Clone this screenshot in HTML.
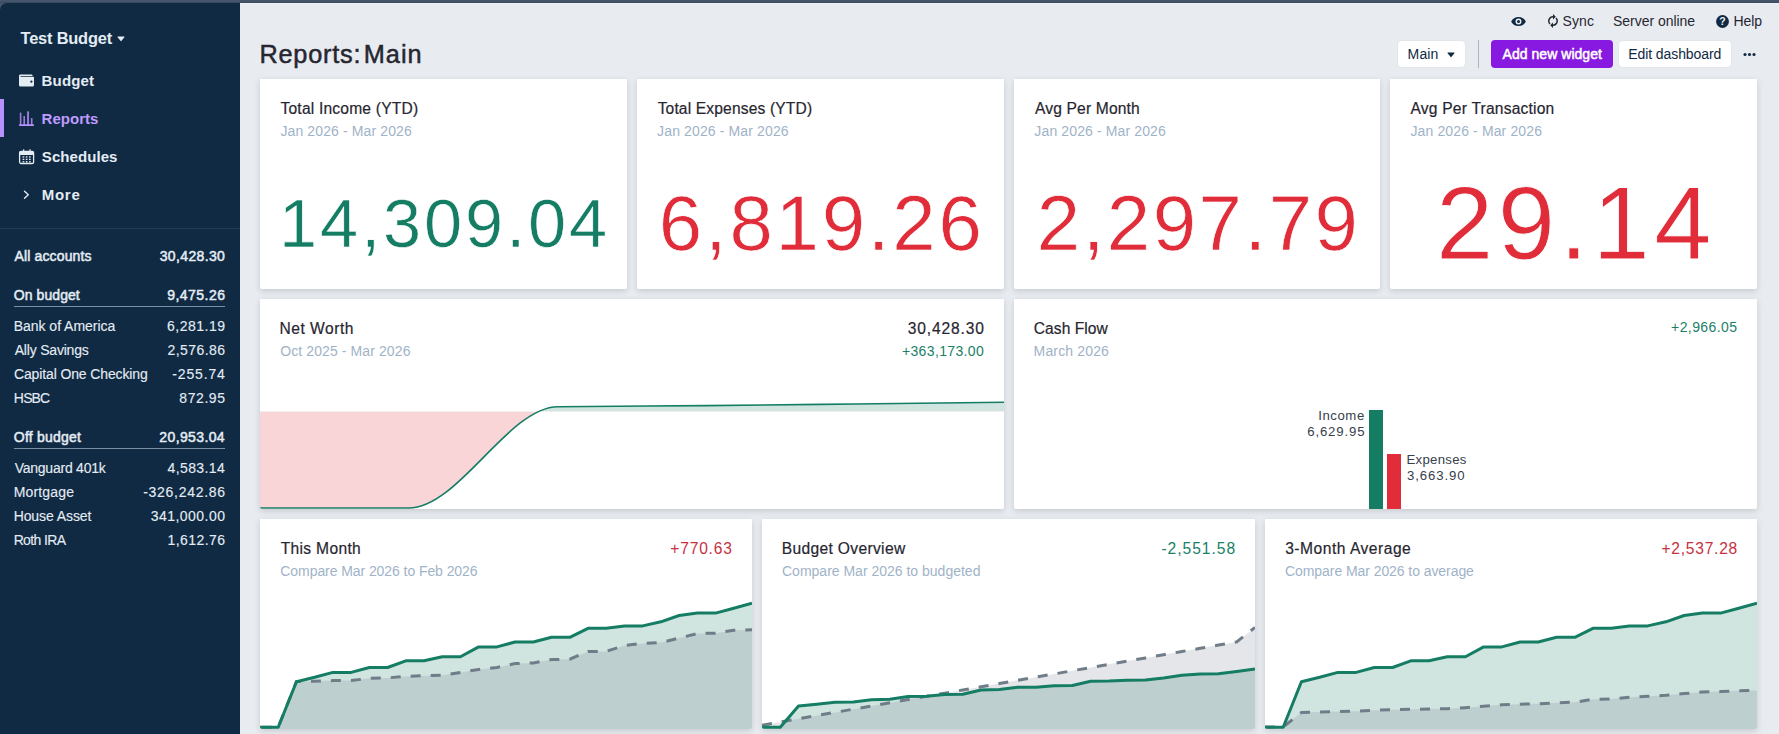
<!DOCTYPE html>
<html lang="en"><head><meta charset="utf-8"><title>Reports: Main</title>
<style>
html,body{margin:0;padding:0;}
body{width:1779px;height:734px;overflow:hidden;position:relative;background:#e8ecf0;font-family:"Liberation Sans", sans-serif;}
.t{position:absolute;white-space:nowrap;line-height:1;font-weight:400;}
.abs{position:absolute;}
.card{position:absolute;background:#fff;box-shadow:0 2px 6px rgba(0,0,0,.15);border-radius:0 0 2px 2px;overflow:hidden;}
</style></head>
<body>
<div class="abs" style="left:0;top:0;width:1779px;height:12px;background:#45566c;"></div>
<div class="abs" style="left:0;top:2px;width:1779px;height:1px;background:#3a4a5d;"></div>
<div class="abs" style="left:240px;top:3px;width:1539px;height:12px;background:#e8ecf0;"></div>
<div class="abs" style="left:240px;top:3px;width:1539px;height:1px;background:#eff3f8;"></div>
<div class="abs" style="left:0;top:3px;width:240px;height:731px;background:#102a43;border-top-left-radius:7px;"></div>
<div class="abs" style="left:0;top:99px;width:4px;height:38px;background:#b990ff;"></div>
<div class="abs" style="left:0;top:228px;width:240px;height:1px;background:#243b53;"></div>
<div class="abs" style="left:14px;top:306px;width:211px;height:1px;background:#7b8fa5;"></div>
<div class="abs" style="left:14px;top:448px;width:211px;height:1px;background:#7b8fa5;"></div>
<div class="abs" style="left:1398px;top:41px;width:67px;height:26px;background:#fff;border-radius:4px;box-shadow:0 0 0 1px #e1e6eb;"></div>
<div class="abs" style="left:1478px;top:40px;width:1px;height:28px;background:#a7b5c4;"></div>
<div class="abs" style="left:1491px;top:40px;width:122px;height:28px;background:#8719e0;border-radius:4px;"></div>
<div class="abs" style="left:1619px;top:41px;width:112px;height:26px;background:#fff;border-radius:4px;box-shadow:0 0 0 1px #e1e6eb;"></div>
<div class="card" id="k1" style="left:260px;top:79px;width:367px;height:210px;"></div>
<div class="card" id="k2" style="left:637px;top:79px;width:367px;height:210px;"></div>
<div class="card" id="k3" style="left:1014px;top:79px;width:366px;height:210px;"></div>
<div class="card" id="k4" style="left:1390px;top:79px;width:367px;height:210px;"></div>
<div class="card" id="k5" style="left:260px;top:299px;width:744px;height:210px;"><svg class="abs" style="left:0;top:0" width="744" height="210" viewBox="0 0 744 210"><defs><clipPath id="cpa"><rect x="0" y="0" width="744" height="112.50"/></clipPath><clipPath id="cpb"><rect x="0" y="112.50" width="744" height="97.50"/></clipPath></defs><path d="M0.00,209.00 C49.60,209.00 99.20,209.00 148.80,209.00 C198.40,209.00 248.00,108.43 297.60,107.70 C347.20,106.97 396.80,107.05 446.40,106.60 C496.00,106.15 545.60,105.55 595.20,105.00 C644.80,104.45 694.40,103.88 744.00,103.30 L744.00,112.50 L0,112.50 Z" fill="#147d64" fill-opacity="0.2" clip-path="url(#cpa)"/><path d="M0.00,209.00 C49.60,209.00 99.20,209.00 148.80,209.00 C198.40,209.00 248.00,108.43 297.60,107.70 C347.20,106.97 396.80,107.05 446.40,106.60 C496.00,106.15 545.60,105.55 595.20,105.00 C644.80,104.45 694.40,103.88 744.00,103.30 L744.00,112.50 L0,112.50 Z" fill="#e12d39" fill-opacity="0.2" clip-path="url(#cpb)"/><path d="M0.00,209.00 C49.60,209.00 99.20,209.00 148.80,209.00 C198.40,209.00 248.00,108.43 297.60,107.70 C347.20,106.97 396.80,107.05 446.40,106.60 C496.00,106.15 545.60,105.55 595.20,105.00 C644.80,104.45 694.40,103.88 744.00,103.30" fill="none" stroke="#147d64" stroke-width="1.6"/></svg></div>
<div class="card" id="k6" style="left:1014px;top:299px;width:743px;height:210px;"><div class="abs" style="left:355.3px;top:110.5px;width:13.9px;height:100px;background:#147d64;"></div><div class="abs" style="left:373.1px;top:155.2px;width:13.8px;height:60px;background:#e12d39;"></div></div>
<div class="card" id="k7" style="left:260px;top:519px;width:492px;height:210px;"><svg class="abs" style="left:0;top:0" width="492" height="210" viewBox="0 0 492 210"><path d="M0.00,208.20 L18.22,208.20 L36.44,162.70 L54.67,158.30 L72.89,153.40 L91.11,153.40 L109.33,148.50 L127.56,148.50 L145.78,141.80 L164.00,141.80 L182.22,137.70 L200.44,137.70 L218.67,127.90 L236.89,127.90 L255.11,123.00 L273.33,123.00 L291.56,118.30 L309.78,118.30 L328.00,109.30 L346.22,109.30 L364.44,106.90 L382.67,106.90 L400.89,102.80 L419.11,96.50 L437.33,94.10 L455.56,94.10 L473.78,89.20 L492.00,84.30 L492.00,212 L0,212 Z" fill="#147d64" fill-opacity="0.2"/><path d="M0.00,208.20 L18.22,208.20 L36.44,162.60 L54.67,162.20 L72.89,161.60 L91.11,161.60 L109.33,159.30 L127.56,158.90 L145.78,157.30 L164.00,156.70 L182.22,156.30 L200.44,153.40 L218.67,150.40 L236.89,148.50 L255.11,144.60 L273.33,144.00 L291.56,140.60 L309.78,140.20 L328.00,132.40 L346.22,132.40 L364.44,126.50 L382.67,124.40 L400.89,123.60 L419.11,119.10 L437.33,114.50 L455.56,114.20 L473.78,111.20 L492.00,110.80 L492.00,212 L0,212 Z" fill="#6b7785" fill-opacity="0.18"/><path d="M0.00,208.20 L18.22,208.20 L36.44,162.60 L54.67,162.20 L72.89,161.60 L91.11,161.60 L109.33,159.30 L127.56,158.90 L145.78,157.30 L164.00,156.70 L182.22,156.30 L200.44,153.40 L218.67,150.40 L236.89,148.50 L255.11,144.60 L273.33,144.00 L291.56,140.60 L309.78,140.20 L328.00,132.40 L346.22,132.40 L364.44,126.50 L382.67,124.40 L400.89,123.60 L419.11,119.10 L437.33,114.50 L455.56,114.20 L473.78,111.20 L492.00,110.80" fill="none" stroke="#707d89" stroke-width="3" stroke-dasharray="10 10" stroke-dashoffset="-1.8"/><path d="M0.00,208.20 L18.22,208.20 L36.44,162.70 L54.67,158.30 L72.89,153.40 L91.11,153.40 L109.33,148.50 L127.56,148.50 L145.78,141.80 L164.00,141.80 L182.22,137.70 L200.44,137.70 L218.67,127.90 L236.89,127.90 L255.11,123.00 L273.33,123.00 L291.56,118.30 L309.78,118.30 L328.00,109.30 L346.22,109.30 L364.44,106.90 L382.67,106.90 L400.89,102.80 L419.11,96.50 L437.33,94.10 L455.56,94.10 L473.78,89.20 L492.00,84.30" fill="none" stroke="#147d64" stroke-width="3" stroke-linejoin="round"/></svg></div>
<div class="card" id="k8" style="left:762px;top:519px;width:493px;height:210px;"><svg class="abs" style="left:0;top:0" width="493" height="210" viewBox="0 0 493 210"><path d="M0.00,208.30 L18.26,208.30 L36.52,187.10 L54.78,185.20 L73.04,183.20 L91.30,183.00 L109.56,180.80 L127.81,180.30 L146.07,177.50 L164.33,177.30 L182.59,175.50 L200.85,175.20 L219.11,171.00 L237.37,170.60 L255.63,168.30 L273.89,168.30 L292.15,166.70 L310.41,166.50 L328.67,162.20 L346.93,162.00 L365.19,161.20 L383.44,161.00 L401.70,159.10 L419.96,156.30 L438.22,155.00 L456.48,154.80 L474.74,152.40 L493.00,150.00 L493.00,212 L0,212 Z" fill="#147d64" fill-opacity="0.2"/><path d="M0.00,206.20 L18.26,203.00 L36.52,199.79 L54.78,196.59 L73.04,193.38 L91.30,190.18 L109.56,186.98 L127.81,183.77 L146.07,180.57 L164.33,177.36 L182.59,174.16 L200.85,170.96 L219.11,167.75 L237.37,164.55 L255.63,161.34 L273.89,158.14 L292.15,154.94 L310.41,151.73 L328.67,148.53 L346.93,145.32 L365.19,142.12 L383.44,138.92 L401.70,135.71 L419.96,132.51 L438.22,129.30 L456.48,126.10 L474.74,122.90 L493.00,108.40 L493.00,212 L0,212 Z" fill="#6b7785" fill-opacity="0.18"/><path d="M0.00,206.20 L18.26,203.00 L36.52,199.79 L54.78,196.59 L73.04,193.38 L91.30,190.18 L109.56,186.98 L127.81,183.77 L146.07,180.57 L164.33,177.36 L182.59,174.16 L200.85,170.96 L219.11,167.75 L237.37,164.55 L255.63,161.34 L273.89,158.14 L292.15,154.94 L310.41,151.73 L328.67,148.53 L346.93,145.32 L365.19,142.12 L383.44,138.92 L401.70,135.71 L419.96,132.51 L438.22,129.30 L456.48,126.10 L474.74,122.90 L493.00,108.40" fill="none" stroke="#707d89" stroke-width="3" stroke-dasharray="10 10" stroke-dashoffset="0"/><path d="M0.00,208.30 L18.26,208.30 L36.52,187.10 L54.78,185.20 L73.04,183.20 L91.30,183.00 L109.56,180.80 L127.81,180.30 L146.07,177.50 L164.33,177.30 L182.59,175.50 L200.85,175.20 L219.11,171.00 L237.37,170.60 L255.63,168.30 L273.89,168.30 L292.15,166.70 L310.41,166.50 L328.67,162.20 L346.93,162.00 L365.19,161.20 L383.44,161.00 L401.70,159.10 L419.96,156.30 L438.22,155.00 L456.48,154.80 L474.74,152.40 L493.00,150.00" fill="none" stroke="#147d64" stroke-width="3" stroke-linejoin="round"/></svg></div>
<div class="card" id="k9" style="left:1265px;top:519px;width:492px;height:210px;"><svg class="abs" style="left:0;top:0" width="492" height="210" viewBox="0 0 492 210"><path d="M0.00,208.20 L18.22,208.20 L36.44,162.70 L54.67,158.30 L72.89,153.40 L91.11,153.40 L109.33,148.50 L127.56,148.50 L145.78,141.80 L164.00,141.80 L182.22,137.70 L200.44,137.70 L218.67,127.90 L236.89,127.90 L255.11,123.00 L273.33,123.00 L291.56,118.30 L309.78,118.30 L328.00,109.30 L346.22,109.30 L364.44,106.90 L382.67,106.90 L400.89,102.80 L419.11,96.50 L437.33,94.10 L455.56,94.10 L473.78,89.20 L492.00,84.30 L492.00,212 L0,212 Z" fill="#147d64" fill-opacity="0.2"/><path d="M0.00,207.90 L18.22,207.90 L36.44,193.60 L54.67,193.00 L72.89,192.60 L91.11,192.20 L109.33,191.20 L127.56,190.70 L145.78,190.30 L164.00,190.10 L182.22,189.70 L200.44,188.70 L218.67,187.30 L236.89,185.80 L255.11,185.20 L273.33,184.80 L291.56,183.80 L309.78,183.20 L328.00,180.30 L346.22,179.90 L364.44,178.30 L382.67,177.30 L400.89,176.30 L419.11,174.60 L437.33,173.00 L455.56,172.60 L473.78,171.80 L492.00,171.40 L492.00,212 L0,212 Z" fill="#6b7785" fill-opacity="0.18"/><path d="M0.00,207.90 L18.22,207.90 L36.44,193.60 L54.67,193.00 L72.89,192.60 L91.11,192.20 L109.33,191.20 L127.56,190.70 L145.78,190.30 L164.00,190.10 L182.22,189.70 L200.44,188.70 L218.67,187.30 L236.89,185.80 L255.11,185.20 L273.33,184.80 L291.56,183.80 L309.78,183.20 L328.00,180.30 L346.22,179.90 L364.44,178.30 L382.67,177.30 L400.89,176.30 L419.11,174.60 L437.33,173.00 L455.56,172.60 L473.78,171.80 L492.00,171.40" fill="none" stroke="#707d89" stroke-width="3" stroke-dasharray="10 10" stroke-dashoffset="0"/><path d="M0.00,208.20 L18.22,208.20 L36.44,162.70 L54.67,158.30 L72.89,153.40 L91.11,153.40 L109.33,148.50 L127.56,148.50 L145.78,141.80 L164.00,141.80 L182.22,137.70 L200.44,137.70 L218.67,127.90 L236.89,127.90 L255.11,123.00 L273.33,123.00 L291.56,118.30 L309.78,118.30 L328.00,109.30 L346.22,109.30 L364.44,106.90 L382.67,106.90 L400.89,102.80 L419.11,96.50 L437.33,94.10 L455.56,94.10 L473.78,89.20 L492.00,84.30" fill="none" stroke="#147d64" stroke-width="3" stroke-linejoin="round"/></svg></div>
<!-- sidebar icons -->
<svg class="abs" style="left:116.6px;top:35.6px" width="8" height="6" viewBox="0 0 8 6"><path d="M0.9 0.5h6.2a.4.4 0 0 1 .3.7L4.3 5.1a.4.4 0 0 1-.6 0L.6 1.2a.4.4 0 0 1 .3-.7z" fill="#e4ecf4"/></svg>
<svg class="abs" style="left:19px;top:73px" width="15" height="15" viewBox="0 0 20 20"><path fill="#e4ecf4" d="M0 4c0-1.1.9-2 2-2h15a1 1 0 0 1 1 1v1H2v1h17a1 1 0 0 1 1 1v10a2 2 0 0 1-2 2H2a2 2 0 0 1-2-2V4zm16.500 9a1.500 1.500 0 1 0 0-3 1.500 1.500 0 0 0 0 3z"/></svg>
<svg class="abs" style="left:18px;top:110px" width="18" height="18" viewBox="0 0 18 18"><g fill="#b990ff"><rect x="0.900" y="14.300" width="15.200" height="1.700" rx="0.800"/><g fill-opacity="0.82"><rect x="1.800" y="2.400" width="1.600" height="12.600" rx="0.500"/><rect x="5.400" y="5.900" width="1.600" height="9" rx="0.500"/><rect x="9.100" y="1.200" width="1.900" height="13.700" rx="0.500"/><rect x="12.900" y="8.100" width="1.600" height="6.800" rx="0.500"/></g></g></svg>
<svg class="abs" style="left:18px;top:148px" width="18" height="18" viewBox="0 0 18 18"><g fill="none" stroke="#e4ecf4"><rect x="1.600" y="3.300" width="14" height="12.200" rx="1.600" stroke-width="1.300"/></g><g fill="#e4ecf4"><rect x="1.600" y="3.300" width="14" height="3.600" rx="1"/><rect x="5" y="1.200" width="1.300" height="3.500" rx="0.600"/><rect x="11.300" y="1.200" width="1.300" height="3.500" rx="0.600"/><rect x="4.600" y="8.300" width="1.700" height="1.300"/><rect x="7.800" y="8.300" width="1.700" height="1.300"/><rect x="11" y="8.300" width="1.700" height="1.300"/><rect x="4.600" y="10.700" width="1.700" height="1.300"/><rect x="7.800" y="10.700" width="1.700" height="1.300"/><rect x="11" y="10.700" width="1.700" height="1.300"/><rect x="4.600" y="13.100" width="1.700" height="1.300"/><rect x="7.800" y="13.100" width="1.700" height="1.300"/><rect x="11" y="13.100" width="1.700" height="1.300"/></g></svg>
<svg class="abs" style="left:22px;top:189px" width="10" height="12" viewBox="0 0 10 12"><path d="M2.500 2.300L6.300 5.800L2.500 9.300" fill="none" stroke="#e4ecf4" stroke-width="1.400" stroke-linecap="round" stroke-linejoin="round"/></svg>

<!-- top bar icons -->
<svg class="abs" style="left:1511px;top:13.900px" width="15" height="15" viewBox="0 0 20 20"><path fill="#102a43" d="M.2 10a11 11 0 0 1 19.600 0A11 11 0 0 1 .2 10zm9.800 4a4 4 0 1 0 0-8 4 4 0 0 0 0 8zm0-2a2 2 0 1 1 0-4 2 2 0 0 1 0 4z"/></svg>
<svg class="abs" style="left:1546.300px;top:13.900px" width="14" height="14" viewBox="0 0 20 20"><path fill="#1f2933" d="M10 3v2a5 5 0 0 0-3.540 8.540l-1.410 1.410A7 7 0 0 1 10 3zm4.950 2.050A7 7 0 0 1 10 17v-2a5 5 0 0 0 3.540-8.540l1.410-1.410zM10 20l-4-4 4-4v8zm0-12V0l4 4-4 4z"/></svg>
<svg class="abs" style="left:1716px;top:15px" width="13" height="13" viewBox="0 0 13 13"><circle cx="6.500" cy="6.500" r="6.400" fill="#102a43"/><text x="6.500" y="10.400" text-anchor="middle" font-family="Liberation Sans, sans-serif" font-weight="700" font-size="10.500" fill="#e8ecf0">?</text></svg>
<!-- header icons -->
<svg class="abs" style="left:1447.300px;top:51.600px" width="8" height="6" viewBox="0 0 8 6"><path d="M0.900 0.500h6.200a.4.4 0 0 1 .3.700L4.300 5.100a.4.400 0 0 1-.6 0L.6 1.200a.4.400 0 0 1 .3-.7z" fill="#102a43"/></svg>
<svg class="abs" style="left:1742px;top:51px" width="16" height="8" viewBox="0 0 16 8"><g fill="#102a43"><circle cx="3" cy="3.500" r="1.550"/><circle cx="7.500" cy="3.500" r="1.550"/><circle cx="12" cy="3.500" r="1.550"/></g></svg>

<span class="t" id="tb" style="left:20.62px;top:30.00px;font-size:16.4px;color:#e4ecf4;letter-spacing:-0.201px;font-weight:700;">Test Budget</span>
<span class="t" id="n1" style="left:41.54px;top:73.00px;font-size:15.0px;color:#e4ecf4;letter-spacing:0.184px;font-weight:700;">Budget</span>
<span class="t" id="n2" style="left:41.54px;top:111.00px;font-size:15.0px;color:#bf9bff;letter-spacing:0.024px;font-weight:700;">Reports</span>
<span class="t" id="n3" style="left:41.83px;top:149.00px;font-size:15.0px;color:#e4ecf4;letter-spacing:0.067px;font-weight:700;">Schedules</span>
<span class="t" id="n4" style="left:41.75px;top:187.00px;font-size:15.0px;color:#e4ecf4;letter-spacing:0.727px;font-weight:700;">More</span>
<span class="t" id="aa" style="left:14.50px;top:249.00px;font-size:14.0px;color:#e4ecf4;letter-spacing:0.141px;-webkit-text-stroke:0.5px #e4ecf4;">All accounts</span>
<span class="t" id="aav" style="left:159.70px;top:249.00px;font-size:14.0px;color:#e4ecf4;letter-spacing:0.366px;-webkit-text-stroke:0.5px #e4ecf4;">30,428.30</span>
<span class="t" id="ob" style="left:13.85px;top:288.00px;font-size:14.0px;color:#e4ecf4;letter-spacing:0.064px;-webkit-text-stroke:0.5px #e4ecf4;">On budget</span>
<span class="t" id="obv" style="left:167.20px;top:288.00px;font-size:14.0px;color:#e4ecf4;letter-spacing:0.470px;-webkit-text-stroke:0.5px #e4ecf4;">9,475.26</span>
<span class="t" id="a1" style="left:13.72px;top:319.00px;font-size:14.0px;color:#e4ecf4;letter-spacing:-0.029px;-webkit-text-stroke:0.12px #e4ecf4;">Bank of America</span>
<span class="t" id="a1v" style="left:166.97px;top:319.00px;font-size:14.0px;color:#e4ecf4;letter-spacing:0.524px;-webkit-text-stroke:0.12px #e4ecf4;">6,281.19</span>
<span class="t" id="a2" style="left:14.65px;top:343.00px;font-size:14.0px;color:#e4ecf4;letter-spacing:-0.191px;-webkit-text-stroke:0.12px #e4ecf4;">Ally Savings</span>
<span class="t" id="a2v" style="left:167.42px;top:343.00px;font-size:14.0px;color:#e4ecf4;letter-spacing:0.442px;-webkit-text-stroke:0.12px #e4ecf4;">2,576.86</span>
<span class="t" id="a3" style="left:13.96px;top:367.00px;font-size:14.0px;color:#e4ecf4;letter-spacing:-0.123px;-webkit-text-stroke:0.12px #e4ecf4;">Capital One Checking</span>
<span class="t" id="a3v" style="left:172.36px;top:367.00px;font-size:14.0px;color:#e4ecf4;letter-spacing:0.840px;-webkit-text-stroke:0.12px #e4ecf4;">-255.74</span>
<span class="t" id="a4" style="left:13.87px;top:391.00px;font-size:14.0px;color:#e4ecf4;letter-spacing:-0.843px;-webkit-text-stroke:0.12px #e4ecf4;">HSBC</span>
<span class="t" id="a4v" style="left:179.32px;top:391.00px;font-size:14.0px;color:#e4ecf4;letter-spacing:0.574px;-webkit-text-stroke:0.12px #e4ecf4;">872.95</span>
<span class="t" id="fb" style="left:13.85px;top:430.00px;font-size:14.0px;color:#e4ecf4;letter-spacing:0.201px;-webkit-text-stroke:0.5px #e4ecf4;">Off budget</span>
<span class="t" id="fbv" style="left:159.37px;top:430.00px;font-size:14.0px;color:#e4ecf4;letter-spacing:0.370px;-webkit-text-stroke:0.5px #e4ecf4;">20,953.04</span>
<span class="t" id="b1" style="left:14.64px;top:461.00px;font-size:14.0px;color:#e4ecf4;letter-spacing:-0.234px;-webkit-text-stroke:0.12px #e4ecf4;">Vanguard 401k</span>
<span class="t" id="b1v" style="left:167.52px;top:461.00px;font-size:14.0px;color:#e4ecf4;letter-spacing:0.392px;-webkit-text-stroke:0.12px #e4ecf4;">4,583.14</span>
<span class="t" id="b2" style="left:13.63px;top:485.00px;font-size:14.0px;color:#e4ecf4;letter-spacing:0.182px;-webkit-text-stroke:0.12px #e4ecf4;">Mortgage</span>
<span class="t" id="b2v" style="left:143.22px;top:485.00px;font-size:14.0px;color:#e4ecf4;letter-spacing:0.718px;-webkit-text-stroke:0.12px #e4ecf4;">-326,242.86</span>
<span class="t" id="b3" style="left:13.63px;top:509.00px;font-size:14.0px;color:#e4ecf4;letter-spacing:-0.081px;-webkit-text-stroke:0.12px #e4ecf4;">House Asset</span>
<span class="t" id="b3v" style="left:150.65px;top:509.00px;font-size:14.0px;color:#e4ecf4;letter-spacing:0.474px;-webkit-text-stroke:0.12px #e4ecf4;">341,000.00</span>
<span class="t" id="b4" style="left:13.63px;top:533.00px;font-size:14.0px;color:#e4ecf4;letter-spacing:-0.618px;-webkit-text-stroke:0.12px #e4ecf4;">Roth IRA</span>
<span class="t" id="b4v" style="left:167.44px;top:533.00px;font-size:14.0px;color:#e4ecf4;letter-spacing:0.453px;-webkit-text-stroke:0.12px #e4ecf4;">1,612.76</span>
<span class="t" id="sync" style="left:1562.42px;top:14.00px;font-size:14.0px;color:#272630;letter-spacing:0.177px;">Sync</span>
<span class="t" id="srv" style="left:1613.07px;top:14.00px;font-size:14.0px;color:#272630;letter-spacing:-0.033px;">Server online</span>
<span class="t" id="help" style="left:1733.40px;top:14.00px;font-size:14.0px;color:#272630;letter-spacing:-0.017px;">Help</span>
<span class="t" id="h1" style="left:259.43px;top:42.00px;font-size:25.3px;color:#272630;letter-spacing:0.773px;-webkit-text-stroke:0.5px #272630;">Reports:</span>
<span class="t" id="h2" style="left:363.64px;top:42.00px;font-size:25.3px;color:#272630;letter-spacing:1.074px;-webkit-text-stroke:0.5px #272630;">Main</span>
<span class="t" id="mbtn" style="left:1407.59px;top:47.00px;font-size:14.0px;color:#102a43;letter-spacing:0.138px;">Main</span>
<span class="t" id="addw" style="left:1502.58px;top:47.00px;font-size:14.0px;color:#ffffff;letter-spacing:0.038px;-webkit-text-stroke:0.5px #ffffff;">Add new widget</span>
<span class="t" id="edit" style="left:1628.36px;top:47.00px;font-size:14.0px;color:#102a43;letter-spacing:-0.100px;">Edit dashboard</span>
<span class="t" id="c1t" style="left:280.50px;top:101.00px;font-size:15.6px;color:#272630;letter-spacing:0.194px;-webkit-text-stroke:0.2px #272630;">Total Income (YTD)</span>
<span class="t" id="c1s" style="left:280.40px;top:124.00px;font-size:14.0px;color:#9fb3c8;letter-spacing:0.120px;">Jan 2026 - Mar 2026</span>
<span class="t" id="c2t" style="left:657.64px;top:101.00px;font-size:15.6px;color:#272630;letter-spacing:0.147px;-webkit-text-stroke:0.2px #272630;">Total Expenses (YTD)</span>
<span class="t" id="c2s" style="left:657.10px;top:124.00px;font-size:14.0px;color:#9fb3c8;letter-spacing:0.129px;">Jan 2026 - Mar 2026</span>
<span class="t" id="c3t" style="left:1034.97px;top:101.00px;font-size:15.6px;color:#272630;letter-spacing:0.158px;-webkit-text-stroke:0.2px #272630;">Avg Per Month</span>
<span class="t" id="c3s" style="left:1034.37px;top:124.00px;font-size:14.0px;color:#9fb3c8;letter-spacing:0.125px;">Jan 2026 - Mar 2026</span>
<span class="t" id="c4t" style="left:1410.55px;top:101.00px;font-size:15.6px;color:#272630;letter-spacing:0.201px;-webkit-text-stroke:0.2px #272630;">Avg Per Transaction</span>
<span class="t" id="c4s" style="left:1410.40px;top:124.00px;font-size:14.0px;color:#9fb3c8;letter-spacing:0.132px;">Jan 2026 - Mar 2026</span>
<span class="t" id="c1n" style="left:279.12px;top:190.00px;font-size:68.5px;color:#147d64;letter-spacing:2.917px;-webkit-text-stroke:0.58px #fff;">14,309.04</span>
<span class="t" id="c2n" style="left:658.83px;top:184.00px;font-size:78px;color:#e12d39;letter-spacing:2.758px;-webkit-text-stroke:0.66px #fff;">6,819.26</span>
<span class="t" id="c3n" style="left:1036.75px;top:184.00px;font-size:78px;color:#e12d39;letter-spacing:2.508px;-webkit-text-stroke:0.66px #fff;">2,297.79</span>
<span class="t" id="c4n" style="left:1436.07px;top:172.00px;font-size:103px;color:#e12d39;letter-spacing:4.456px;-webkit-text-stroke:0.88px #fff;">29.14</span>
<span class="t" id="nwt" style="left:279.42px;top:321.00px;font-size:15.6px;color:#272630;letter-spacing:0.528px;-webkit-text-stroke:0.2px #272630;">Net Worth</span>
<span class="t" id="nws" style="left:280.19px;top:344.00px;font-size:14.0px;color:#9fb3c8;letter-spacing:0.102px;">Oct 2025 - Mar 2026</span>
<span class="t" id="nwv" style="left:907.87px;top:321.00px;font-size:15.6px;color:#272630;letter-spacing:0.833px;-webkit-text-stroke:0.2px #272630;">30,428.30</span>
<span class="t" id="nwd" style="left:901.89px;top:344.00px;font-size:14.0px;color:#1a7f67;letter-spacing:0.369px;">+363,173.00</span>
<span class="t" id="cft" style="left:1033.83px;top:321.00px;font-size:15.6px;color:#272630;letter-spacing:0.028px;-webkit-text-stroke:0.2px #272630;">Cash Flow</span>
<span class="t" id="cfs" style="left:1033.59px;top:344.00px;font-size:14.0px;color:#9fb3c8;letter-spacing:0.155px;">March 2026</span>
<span class="t" id="cfv" style="left:1671.05px;top:320.00px;font-size:14.0px;color:#1a7f67;letter-spacing:0.409px;">+2,966.05</span>
<span class="t" id="cfi" style="left:1318.27px;top:409.00px;font-size:13.2px;color:#36404b;letter-spacing:0.540px;">Income</span>
<span class="t" id="cfiv" style="left:1307.27px;top:425.00px;font-size:13.2px;color:#36404b;letter-spacing:0.841px;">6,629.95</span>
<span class="t" id="cfe" style="left:1406.56px;top:453.00px;font-size:13.2px;color:#36404b;letter-spacing:0.274px;">Expenses</span>
<span class="t" id="cfev" style="left:1406.98px;top:469.00px;font-size:13.2px;color:#36404b;letter-spacing:0.911px;">3,663.90</span>
<span class="t" id="tmt" style="left:280.63px;top:541.00px;font-size:15.6px;color:#272630;letter-spacing:0.336px;-webkit-text-stroke:0.2px #272630;">This Month</span>
<span class="t" id="tms" style="left:280.33px;top:564.00px;font-size:14.0px;color:#9fb3c8;letter-spacing:-0.074px;">Compare Mar 2026 to Feb 2026</span>
<span class="t" id="tmv" style="left:670.32px;top:541.00px;font-size:15.6px;color:#c9303f;letter-spacing:0.795px;">+770.63</span>
<span class="t" id="bot" style="left:781.69px;top:541.00px;font-size:15.6px;color:#272630;letter-spacing:0.338px;-webkit-text-stroke:0.2px #272630;">Budget Overview</span>
<span class="t" id="bos" style="left:782.00px;top:564.00px;font-size:14.0px;color:#9fb3c8;letter-spacing:-0.001px;">Compare Mar 2026 to budgeted</span>
<span class="t" id="bov" style="left:1161.46px;top:541.00px;font-size:15.6px;color:#1a7f67;letter-spacing:0.971px;">-2,551.58</span>
<span class="t" id="mat" style="left:1285.13px;top:541.00px;font-size:15.6px;color:#272630;letter-spacing:0.510px;-webkit-text-stroke:0.2px #272630;">3-Month Average</span>
<span class="t" id="mas" style="left:1285.03px;top:564.00px;font-size:14.0px;color:#9fb3c8;letter-spacing:-0.068px;">Compare Mar 2026 to average</span>
<span class="t" id="mav" style="left:1661.44px;top:541.00px;font-size:15.6px;color:#c9303f;letter-spacing:0.754px;">+2,537.28</span>
</body></html>
